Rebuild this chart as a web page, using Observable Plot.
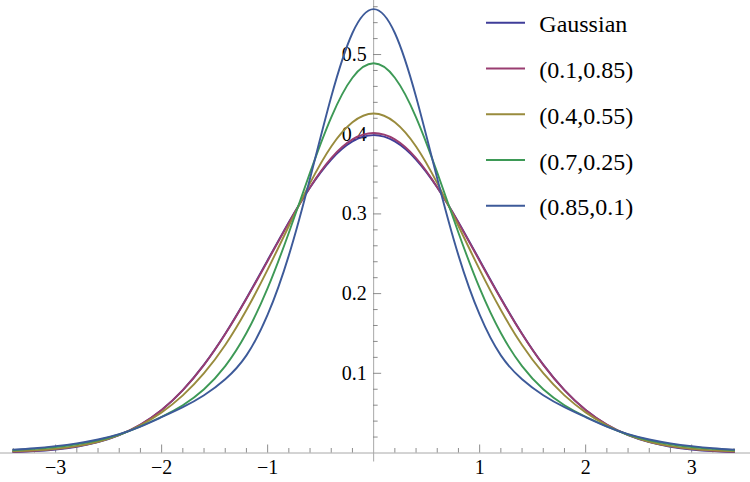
<!DOCTYPE html>
<html><head><meta charset="utf-8">
<script src="https://cdn.jsdelivr.net/npm/d3@7"></script>
<script src="https://cdn.jsdelivr.net/npm/@observablehq/plot@0.6"></script>
<style>
html,body{margin:0;padding:0;background:#fff;}
#wrap{position:relative;width:750px;height:482px;overflow:hidden;}
#legend{position:absolute;left:0;top:0;pointer-events:none;}
</style></head><body>
<div id="wrap"></div>
<script>
// x positions read (right half; the densities are symmetric about 0)
const xHalf = [0, 0.2, 0.4, 0.6, 0.8, 1.0, 1.2, 1.4, 1.6, 1.8, 2.0, 2.2, 2.4, 2.6, 2.8, 3.0, 3.2, 3.4];
const gaussian = [0.3989, 0.3910, 0.3683, 0.3332, 0.2897, 0.2420, 0.1942, 0.1497, 0.1109, 0.0790, 0.0540, 0.0355, 0.0224, 0.0136, 0.0079, 0.0044, 0.0024, 0.0012];
const s_01_085 = [0.4015, 0.3935, 0.3700, 0.3335, 0.2890, 0.2410, 0.1935, 0.1492, 0.1105, 0.0788, 0.0540, 0.0357, 0.0227, 0.0140, 0.0083, 0.0048, 0.0027, 0.0015];
const s_04_055 = [0.4260, 0.4150, 0.3846, 0.3386, 0.2848, 0.2301, 0.1794, 0.1355, 0.1001, 0.0723, 0.0510, 0.0348, 0.0227, 0.0141, 0.0087, 0.0053, 0.0033, 0.0022];
const s_07_025 = [0.4890, 0.4709, 0.4213, 0.3518, 0.2764, 0.2068, 0.1505, 0.1090, 0.0800, 0.0600, 0.0455, 0.0335, 0.0232, 0.0160, 0.0110, 0.0076, 0.0052, 0.0035];
const s_085_01 = [0.5570, 0.5270, 0.4470, 0.3445, 0.2480, 0.1735, 0.1225, 0.0925, 0.0725, 0.0575, 0.0450, 0.0332, 0.0237, 0.0170, 0.0121, 0.0086, 0.0060, 0.0042];

const seriesNames = ["Gaussian", "(0.1,0.85)", "(0.4,0.55)", "(0.7,0.25)", "(0.85,0.1)"];
const seriesColors = ["#3f3d99", "#993d71", "#998b3d", "#3d9956", "#3d5a99"];
const seriesValues = [gaussian, s_01_085, s_04_055, s_07_025, s_085_01];

const xMajorTicks = [-3, -2, -1, 1, 2, 3];
const xMinorTicks = [-3.4, -3.2, -2.8, -2.6, -2.4, -2.2, -1.8, -1.6, -1.4, -1.2, -0.8, -0.6, -0.4, -0.2,
                     0.2, 0.4, 0.6, 0.8, 1.2, 1.4, 1.6, 1.8, 2.2, 2.4, 2.6, 2.8, 3.2, 3.4];
const yMajorTicks = [0.1, 0.2, 0.3, 0.4, 0.5];
const yMinorTicks = [0.02, 0.04, 0.06, 0.08, 0.12, 0.14, 0.16, 0.18, 0.22, 0.24, 0.26, 0.28,
                     0.32, 0.34, 0.36, 0.38, 0.42, 0.44, 0.46, 0.48, 0.52, 0.54, 0.56];
const axisOrigin = 0;

// long table built from the arrays above (mirrored to negative x)
const rows = [];
seriesValues.forEach((vals, k) => {
  for (let i = xHalf.length - 1; i > 0; i--) rows.push({x: -xHalf[i], y: vals[i], s: seriesNames[k]});
  for (let i = 0; i < xHalf.length; i++) rows.push({x: xHalf[i], y: vals[i], s: seriesNames[k]});
});

const fmtX = d => (d < 0 ? "\u2212" + Math.abs(d) : String(d));
const axisColor = "#a8a8a8";
const tickColor = "#707070";
const serif = "'Liberation Serif', 'Times New Roman', Times, 'DejaVu Serif', 'Noto Serif', serif";

const chart = Plot.plot({
  width: 750, height: 482,
  marginLeft: 0, marginRight: 0, marginTop: 0, marginBottom: 29.5,
  x: {domain: [-3.52, 3.555], axis: null},
  y: {domain: [0, 0.5678], axis: null},
  color: {domain: seriesNames, range: seriesColors},
  style: {background: "white", fontFamily: serif, overflow: "visible"},
  marks: [
    Plot.ruleY([axisOrigin], {stroke: axisColor, strokeWidth: 1}),
    Plot.ruleX([axisOrigin], {stroke: axisColor, strokeWidth: 1, insetBottom: -9}),
    Plot.ruleX(xMinorTicks, {x: d => d, y1: () => axisOrigin, y2: () => axisOrigin, insetTop: -4.5, stroke: tickColor, strokeWidth: 0.8}),
    Plot.ruleX(xMajorTicks, {x: d => d, y1: () => axisOrigin, y2: () => axisOrigin, insetTop: -8, stroke: tickColor, strokeWidth: 0.8}),
    Plot.ruleY(yMinorTicks, {y: d => d, x1: () => axisOrigin, x2: () => axisOrigin, insetRight: -4.5, stroke: tickColor, strokeWidth: 0.8}),
    Plot.ruleY(yMajorTicks, {y: d => d, x1: () => axisOrigin, x2: () => axisOrigin, insetRight: -8, stroke: tickColor, strokeWidth: 0.8}),
    Plot.text(xMajorTicks, {x: d => d, y: () => axisOrigin, dy: 15, text: fmtX, fontSize: 20, fontFamily: serif, lineAnchor: "middle", fill: "black"}),
    Plot.text(yMajorTicks, {x: () => axisOrigin, y: d => d, dx: -7, text: d => d.toFixed(1), fontSize: 20, fontFamily: serif, textAnchor: "end", lineAnchor: "middle", fill: "black"}),
    Plot.line(rows, {x: "x", y: "y", z: "s", stroke: "s", curve: "natural", strokeWidth: 1.9})
  ]
});

const wrap = document.getElementById("wrap");
wrap.appendChild(chart);

// legend overlay (inside the plot area, top right)
const legend = d3.select(wrap).append("svg")
  .attr("id", "legend").attr("width", 750).attr("height", 482)
  .attr("font-family", serif);
const items = legend.selectAll("g").data(seriesNames).join("g")
  .attr("transform", (d, i) => `translate(486, ${22.7 + 45.75 * i})`);
items.append("line").attr("x1", 0).attr("x2", 39).attr("y1", 0).attr("y2", 0)
  .attr("stroke", (d, i) => seriesColors[i]).attr("stroke-width", 1.9);
items.append("text").attr("x", 53.3).attr("y", 9.6).attr("font-size", 24)
  .attr("font-family", serif).attr("fill", "black").text(d => d);
</script>
</body></html>
